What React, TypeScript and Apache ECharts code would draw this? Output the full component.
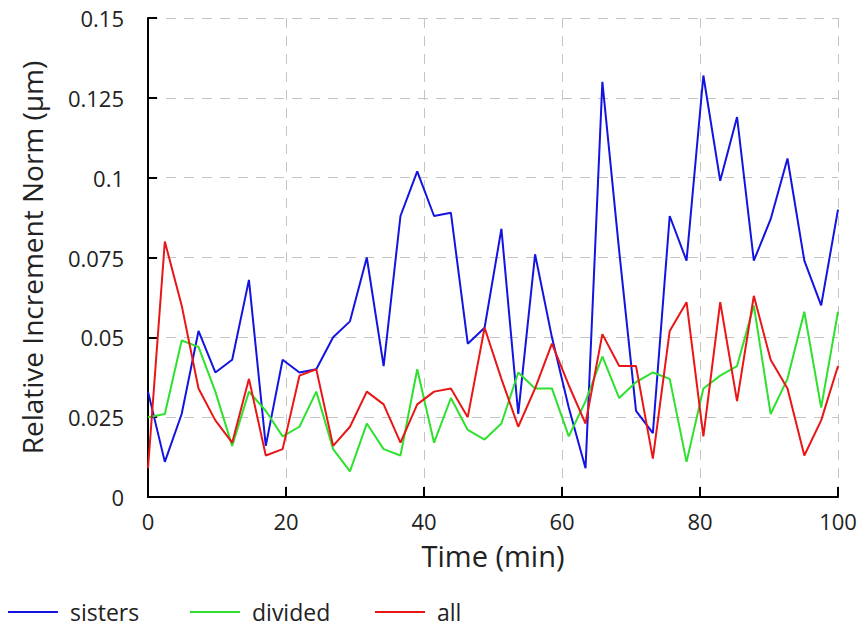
import React, { useEffect, useRef } from "react";
import * as echarts from "echarts";

const times = [0, 2.44, 4.88, 7.32, 9.76, 12.2, 14.63, 17.07, 19.51, 21.95, 24.39, 26.83, 29.27, 31.71, 34.15, 36.59, 39.02, 41.46, 43.9, 46.34, 48.78, 51.22, 53.66, 56.1, 58.54, 60.98, 63.41, 65.85, 68.29, 70.73, 73.17, 75.61, 78.05, 80.49, 82.93, 85.37, 87.8, 90.24, 92.68, 95.12, 97.56, 100];

const sisters = [0.033, 0.011, 0.026, 0.052, 0.039, 0.043, 0.068, 0.016, 0.043, 0.039, 0.040, 0.050, 0.055, 0.075, 0.041, 0.088, 0.102, 0.088, 0.089, 0.048, 0.053, 0.084, 0.026, 0.076, 0.050, 0.028, 0.009, 0.130, 0.077, 0.027, 0.020, 0.088, 0.074, 0.132, 0.099, 0.119, 0.074, 0.087, 0.106, 0.074, 0.060, 0.090];

const divided = [0.025, 0.026, 0.049, 0.047, 0.033, 0.016, 0.033, 0.027, 0.019, 0.022, 0.033, 0.015, 0.008, 0.023, 0.015, 0.013, 0.040, 0.017, 0.031, 0.021, 0.018, 0.023, 0.039, 0.034, 0.034, 0.019, 0.030, 0.044, 0.031, 0.036, 0.039, 0.037, 0.011, 0.034, 0.038, 0.041, 0.060, 0.026, 0.037, 0.058, 0.028, 0.058];

const all = [0.009, 0.080, 0.060, 0.034, 0.024, 0.017, 0.037, 0.013, 0.015, 0.038, 0.040, 0.016, 0.022, 0.033, 0.029, 0.017, 0.029, 0.033, 0.034, 0.025, 0.053, 0.037, 0.022, 0.034, 0.048, 0.035, 0.023, 0.051, 0.041, 0.041, 0.012, 0.052, 0.061, 0.019, 0.061, 0.030, 0.063, 0.043, 0.034, 0.013, 0.024, 0.041];

const seriesNames = ["sisters", "divided", "all"];
const seriesColors = ["#1414e0", "#2fe02f", "#e81616"];
const legendLefts = [3, 185, 370];

const FONT = "Open Sans";

export default function App() {
  const ref = useRef<HTMLDivElement>(null);
  useEffect(() => {
    if (!ref.current) return;
    const chart = echarts.init(ref.current, undefined, { renderer: "svg" });
    const values = [sisters, divided, all];
    const gridLine = { show: true, lineStyle: { color: "#c4c4c4", type: [10, 8] as any, width: 1 } };
    chart.setOption({
      animation: false,
      backgroundColor: "#ffffff",
      textStyle: { fontFamily: FONT },
      grid: { left: 148, right: 23, top: 18, bottom: 131, containLabel: false },
      legend: seriesNames.map((name, k) => ({
        left: legendLefts[k],
        top: 594,
        itemWidth: 50,
        itemHeight: 2,
        icon: "rect",
        textStyle: { fontFamily: FONT, fontSize: 23, lineHeight: 26, color: "#222", padding: [0, 0, 0, 7] },
        data: [name],
      })),
      xAxis: {
        type: "value",
        min: 0,
        max: 100,
        interval: 20,
        name: "Time (min)",
        nameLocation: "middle",
        nameGap: 44,
        nameTextStyle: { fontFamily: FONT, fontSize: 29, color: "#222" },
        axisLine: { show: true, lineStyle: { color: "#000", width: 2 } },
        axisTick: { show: true, inside: true, length: 10, lineStyle: { color: "#000", width: 2 } },
        axisLabel: { margin: 13, fontFamily: FONT, fontSize: 22, color: "#222" },
        splitLine: gridLine,
      },
      yAxis: {
        type: "value",
        min: 0,
        max: 0.15,
        interval: 0.025,
        name: "Relative Increment Norm (µm)",
        nameLocation: "middle",
        nameGap: 102,
        nameTextStyle: { fontFamily: FONT, fontSize: 28, color: "#222" },
        axisLine: { show: true, lineStyle: { color: "#000", width: 2 } },
        axisTick: { show: true, inside: true, length: 9, lineStyle: { color: "#000", width: 2 } },
        axisLabel: { margin: 24, fontFamily: FONT, fontSize: 22, color: "#222" },
        splitLine: gridLine,
      },
      series: seriesNames.map((name, k) => ({
        name,
        type: "line",
        data: times.map((t, i) => [t, values[k][i]]),
        showSymbol: false,
        symbol: "none",
        lineStyle: { color: seriesColors[k], width: 2 },
        itemStyle: { color: seriesColors[k] },
      })),
    });
    return () => chart.dispose();
  }, []);
  return (
    <div
      ref={ref}
      style={{ position: "fixed", left: 0, top: 0, width: 861, height: 628 }}
    />
  );
}
